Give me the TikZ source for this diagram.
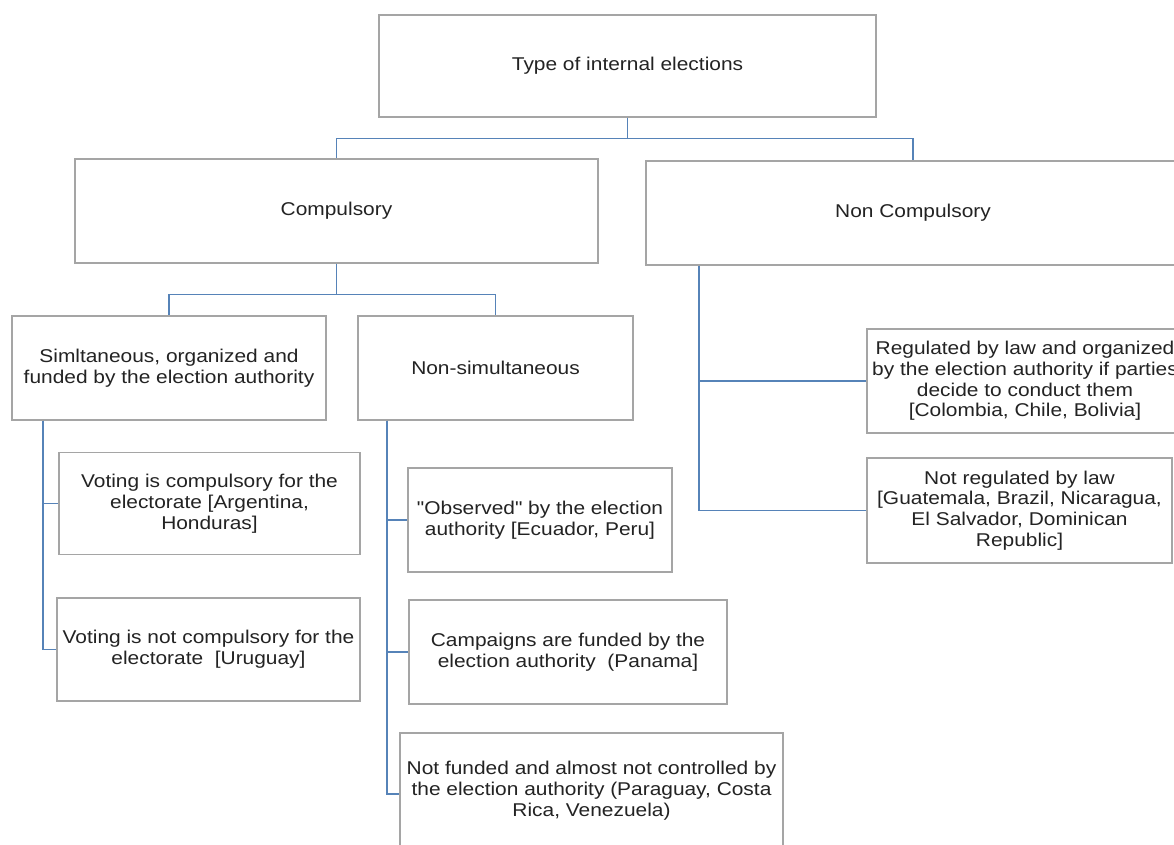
\documentclass[tikz,border=0pt]{standalone}
\usepackage{fontspec}
\setmainfont{Liberation Sans}[FakeStretch=1.13,Ligatures=TeXOff]
\begin{document}
\begin{tikzpicture}[x=1pt,y=-1pt,
  box/.style={draw=boxgray,line width=1.3pt,rectangle,inner sep=0pt,align=center,
    text=txtgray,font=\fontsize{18.5pt}{20.8pt}\selectfont},
  conn/.style={draw=connblue,line width=1.5pt}]
\definecolor{boxgray}{RGB}{165,165,165}
\definecolor{txtgray}{RGB}{35,35,35}
\definecolor{connblue}{RGB}{86,131,184}
\useasboundingbox (0,0) rectangle (1174,845);
\clip (0,0) rectangle (1174,845);
\fill[white] (0,0) rectangle (1174,845);

\node[box,minimum width=497pt,minimum height=102pt] (top) at (627.5,66) {Type of internal elections};
\node[box,minimum width=523pt,minimum height=104pt] (comp) at (336.5,211) {Compulsory};
\node[box,minimum width=534pt,minimum height=104pt] (noncomp) at (913,213) {Non Compulsory};
\node[box,minimum width=314pt,minimum height=104pt] (sim) at (169,368) {Simltaneous, organized and\\funded by the election authority};
\node[box,minimum width=275pt,minimum height=104pt] (nonsim) at (495.5,368) {Non-simultaneous};
\node[box,minimum width=301pt,minimum height=102pt] (volcomp) at (209.5,503.5) {Voting is compulsory for the\\electorate [Argentina,\\Honduras]};
\node[box,minimum width=303pt,minimum height=103pt] (volnot) at (208.5,649.5) {Voting is not compulsory for the\\electorate\ \ [Uruguay]};
\node[box,minimum width=264pt,minimum height=104pt] (observed) at (540,520) {"Observed" by the election\\authority [Ecuador, Peru]};
\node[box,minimum width=318pt,minimum height=104pt] (campaigns) at (568,652) {Campaigns are funded by the\\election authority\ \ (Panama]};
\node[box,minimum width=383pt,minimum height=115pt] (notfunded) at (591.5,790.5) {Not funded and almost not controlled by\\the election authority (Paraguay, Costa\\Rica, Venezuela)};
\node[box,minimum width=316pt,minimum height=104pt] (regulated) at (1025,381) {Regulated by law and organized\\by the election authority if parties\\decide to conduct them\\{}[Colombia, Chile, Bolivia]};
\node[box,minimum width=305pt,minimum height=105pt] (notreg) at (1019.5,510.5) {Not regulated by law\\{}[Guatemala, Brazil, Nicaragua,\\El Salvador, Dominican\\Republic]};

\draw[conn] (top.south) -- ++(0,21) -| (comp.north);
\draw[conn] (top.south) -- ++(0,21) -| (noncomp.north);
\draw[conn] (comp.south) -- ++(0,31) -| (sim.north);
\draw[conn] (comp.south) -- ++(0,31) -| (nonsim.north);
\draw[conn] ([xshift=-126pt]sim.south) |- (volcomp.west);
\draw[conn] ([xshift=-126pt]sim.south) |- (volnot.west);
\draw[conn] ([xshift=-108.5pt]nonsim.south) |- (observed.west);
\draw[conn] ([xshift=-108.5pt]nonsim.south) |- (campaigns.west);
\draw[conn] ([xshift=-108.5pt]nonsim.south) |- ([yshift=-3.5pt]notfunded.west);
\draw[conn] ([xshift=-214pt]noncomp.south) |- (regulated.west);
\draw[conn] ([xshift=-214pt]noncomp.south) |- (notreg.west);
\end{tikzpicture}
\end{document}
